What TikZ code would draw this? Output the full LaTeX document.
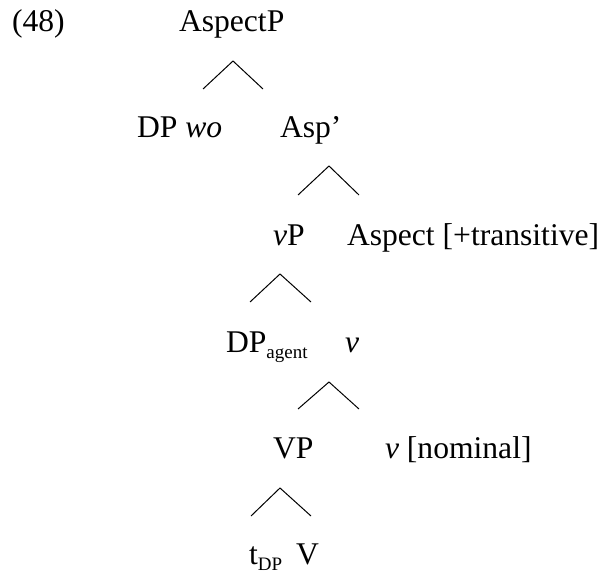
\documentclass[tikz,border=0pt]{standalone}
\usepackage{fontspec}
\setmainfont{Liberation Serif}
\newcommand{\subtxt}[1]{\raisebox{-6bp}{\fontsize{19bp}{20bp}\selectfont #1}}
\begin{document}
\begin{tikzpicture}[x=1bp,y=-1bp,
  lab/.style={anchor=base west,inner sep=0pt,outer sep=0pt,font=\fontsize{31.6bp}{37bp}\selectfont},
  branch/.style={line width=1bp,black}]
\useasboundingbox (0,0) rectangle (601,574);
% labels
\node[lab] (ex) at (12,32) {(48)};
\node[lab] (aspP) at (179,32) {AspectP};
\node[lab] (dpwo) at (137,138) {DP \textit{wo}};
\node[lab] (aspbar) at (280,138) {Asp’};
\node[lab] (vP) at (273,245) {\textit{v}P};
\node[lab] (aspect) at (347,245) {Aspect [+transitive]};
\node[lab] (dpag) at (226,352) {DP\subtxt{agent}};
\node[lab] (vbar) at (345,352) {\textit{v}};
\node[lab] (VP) at (273,458) {VP};
\node[lab] (vnom) at (385,458) {\textit{v} [nominal]};
\node[lab] (tdp) at (249,564) {t\subtxt{DP}};
\node[lab] (V) at (296,564) {V};
% wedges
\coordinate (w1a) at (233,61);  \coordinate (w1l) at (203,89);  \coordinate (w1r) at (263,89);
\coordinate (w2a) at (329,166); \coordinate (w2l) at (298,195); \coordinate (w2r) at (359,195);
\coordinate (w3a) at (280,274); \coordinate (w3l) at (250,302); \coordinate (w3r) at (311,302);
\coordinate (w4a) at (329,382); \coordinate (w4l) at (298,409); \coordinate (w4r) at (359,409);
\coordinate (w5a) at (280,488); \coordinate (w5l) at (251,516); \coordinate (w5r) at (311,516);
\draw[branch] (w1l) -- (w1a) -- (w1r);
\draw[branch] (w2l) -- (w2a) -- (w2r);
\draw[branch] (w3l) -- (w3a) -- (w3r);
\draw[branch] (w4l) -- (w4a) -- (w4r);
\draw[branch] (w5l) -- (w5a) -- (w5r);
\end{tikzpicture}
\end{document}
